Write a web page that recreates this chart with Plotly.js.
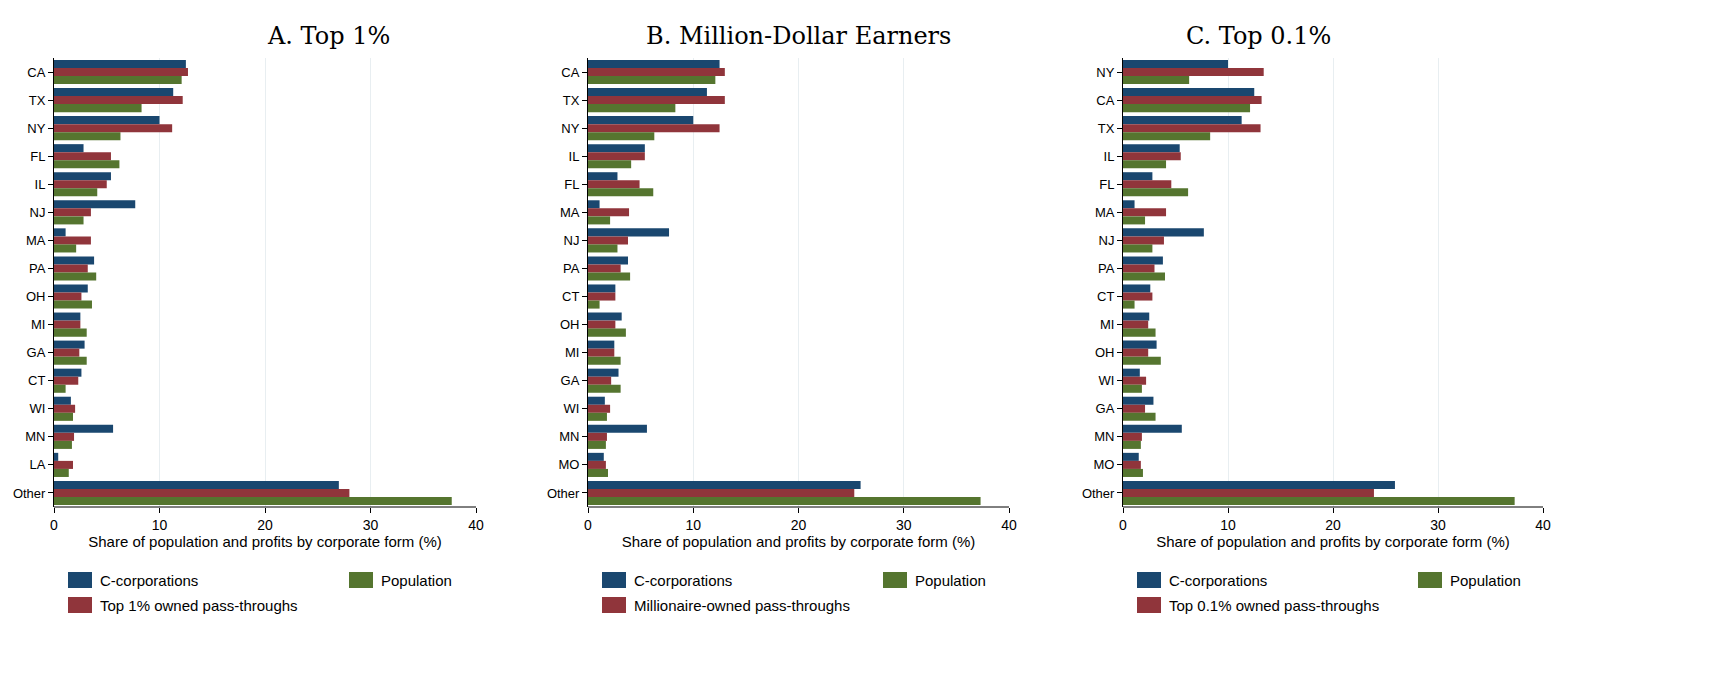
<!DOCTYPE html>
<html><head><meta charset="utf-8">
<script src="https://cdn.plot.ly/plotly-3.0.1.min.js"></script>
<style>body{margin:0;background:#fff}</style>
</head><body>
<div id="chart" style="width:1727px;height:681px"></div>
<script>
// panel A: Top 1%
const statesA = ['CA','TX','NY','FL','IL','NJ','MA','PA','OH','MI','GA','CT','WI','MN','LA','Other'];
const ccorpA  = [12.5,11.3,10.0,2.8,5.4,7.7,1.1,3.8,3.2,2.5,2.9,2.6,1.6,5.6,0.4,27.0];
const passA   = [12.7,12.2,11.2,5.4,5.0,3.5,3.5,3.2,2.6,2.5,2.4,2.3,2.0,1.9,1.8,28.0];
const popA    = [12.1,8.3,6.3,6.2,4.1,2.8,2.1,4.0,3.6,3.1,3.1,1.1,1.8,1.7,1.4,37.7];
// panel B: Million-dollar earners
const statesB = ['CA','TX','NY','IL','FL','MA','NJ','PA','CT','OH','MI','GA','WI','MN','MO','Other'];
const ccorpB  = [12.5,11.3,10.0,5.4,2.8,1.1,7.7,3.8,2.6,3.2,2.5,2.9,1.6,5.6,1.5,25.9];
const passB   = [13.0,13.0,12.5,5.4,4.9,3.9,3.8,3.1,2.6,2.6,2.5,2.2,2.1,1.8,1.7,25.3];
const popB    = [12.1,8.3,6.3,4.1,6.2,2.1,2.8,4.0,1.1,3.6,3.1,3.1,1.8,1.7,1.9,37.3];
// panel C: Top 0.1%
const statesC = ['NY','CA','TX','IL','FL','MA','NJ','PA','CT','MI','OH','WI','GA','MN','MO','Other'];
const ccorpC  = [10.0,12.5,11.3,5.4,2.8,1.1,7.7,3.8,2.6,2.5,3.2,1.6,2.9,5.6,1.5,25.9];
const passC   = [13.4,13.2,13.1,5.5,4.6,4.1,3.9,3.0,2.8,2.4,2.4,2.2,2.1,1.8,1.7,23.9];
const popC    = [6.3,12.1,8.3,4.1,6.2,2.1,2.8,4.0,1.1,3.1,3.6,1.8,3.1,1.7,1.9,37.3];

const titles = ['A. Top 1%','B. Million-Dollar Earners','C. Top 0.1%'];
const passNames = ['Top 1% owned pass-throughs','Millionaire-owned pass-throughs','Top 0.1% owned pass-throughs'];
const colors = ['#1a476f','#90353b','#55752f'];

const W = 1727, plotTop = 58, plotBot = 507, plotH = plotBot - plotTop;
const px0 = [54, 588, 1123], px1 = [476, 1009, 1543];

const panels = [[statesA,ccorpA,passA,popA],[statesB,ccorpB,passB,popB],[statesC,ccorpC,passC,popC]];
let traces = [];
let layout = {
  width: W, height: 681, barmode: 'group', bargap: 0.14, bargroupgap: 0,
  showlegend: false, paper_bgcolor: '#fff', plot_bgcolor: '#fff',
  margin: {l: 0, r: 0, t: plotTop, b: 681 - plotBot},
  font: {family: 'Liberation Sans, Arial', color: '#000'},
  annotations: [], shapes: []
};
const px = x => x / W;
const py = y => (plotBot - y) / plotH;

panels.forEach((p, i) => {
  const ax = i == 0 ? '' : (i + 1);
  const vals = [p[1], p[2], p[3]];
  const names = ['C-corporations', passNames[i], 'Population'];
  vals.forEach((v, k) => {
    traces.push({type: 'bar', orientation: 'h', y: p[0], x: v, name: names[k],
      marker: {color: colors[k], line: {width: 0}}, xaxis: 'x' + ax, yaxis: 'y' + ax,
      hoverinfo: 'x+y+name'});
  });
  layout['xaxis' + ax] = {domain: [px(px0[i]), px(px1[i])], anchor: 'y' + ax, range: [0, 40],
    tickvals: [0,10,20,30,40], showgrid: true, gridcolor: '#e8eef1', zeroline: false,
    showline: false, ticks: 'outside', ticklen: 5, tickcolor: '#000', tickfont: {size: 14},
    title: {text: 'Share of population and profits by corporate form (%)', font: {size: 15}, standoff: 4}};
  layout['yaxis' + ax] = {domain: [0, 1], anchor: 'x' + ax, autorange: 'reversed',
    showline: true, linecolor: '#000', linewidth: 1, ticks: 'outside', ticklen: 5,
    tickcolor: '#000', tickfont: {size: 13}, showgrid: false};
  layout.shapes.push({type: 'line', xref: 'paper', yref: 'paper', x0: px(px0[i]), x1: px(px1[i]),
    y0: 0, y1: 0, line: {color: '#000', width: 1}});
  layout.annotations.push({xref: 'paper', yref: 'paper', x: (px(px0[i]) + px(px1[i])) / 2, y: py(20),
    text: titles[i], showarrow: false, font: {family: 'DejaVu Serif, Liberation Serif', size: 24}});
  // legend
  const items = [[names[0], colors[0], px0[i] + 14, 580], [names[2], colors[2], px0[i] + 295, 580], [names[1], colors[1], px0[i] + 14, 605]];
  items.forEach(it => {
    layout.shapes.push({type: 'rect', xref: 'paper', yref: 'paper', x0: px(it[2]), x1: px(it[2] + 24),
      y0: py(it[3] - 8), y1: py(it[3] + 8), fillcolor: it[1], line: {width: 0}});
    layout.annotations.push({xref: 'paper', yref: 'paper', x: px(it[2] + 30), y: py(it[3]), xanchor: 'left',
      yanchor: 'middle', text: it[0], showarrow: false, font: {size: 15}});
  });
});

Plotly.newPlot('chart', traces, layout, {displayModeBar: false});
</script>
</body></html>
